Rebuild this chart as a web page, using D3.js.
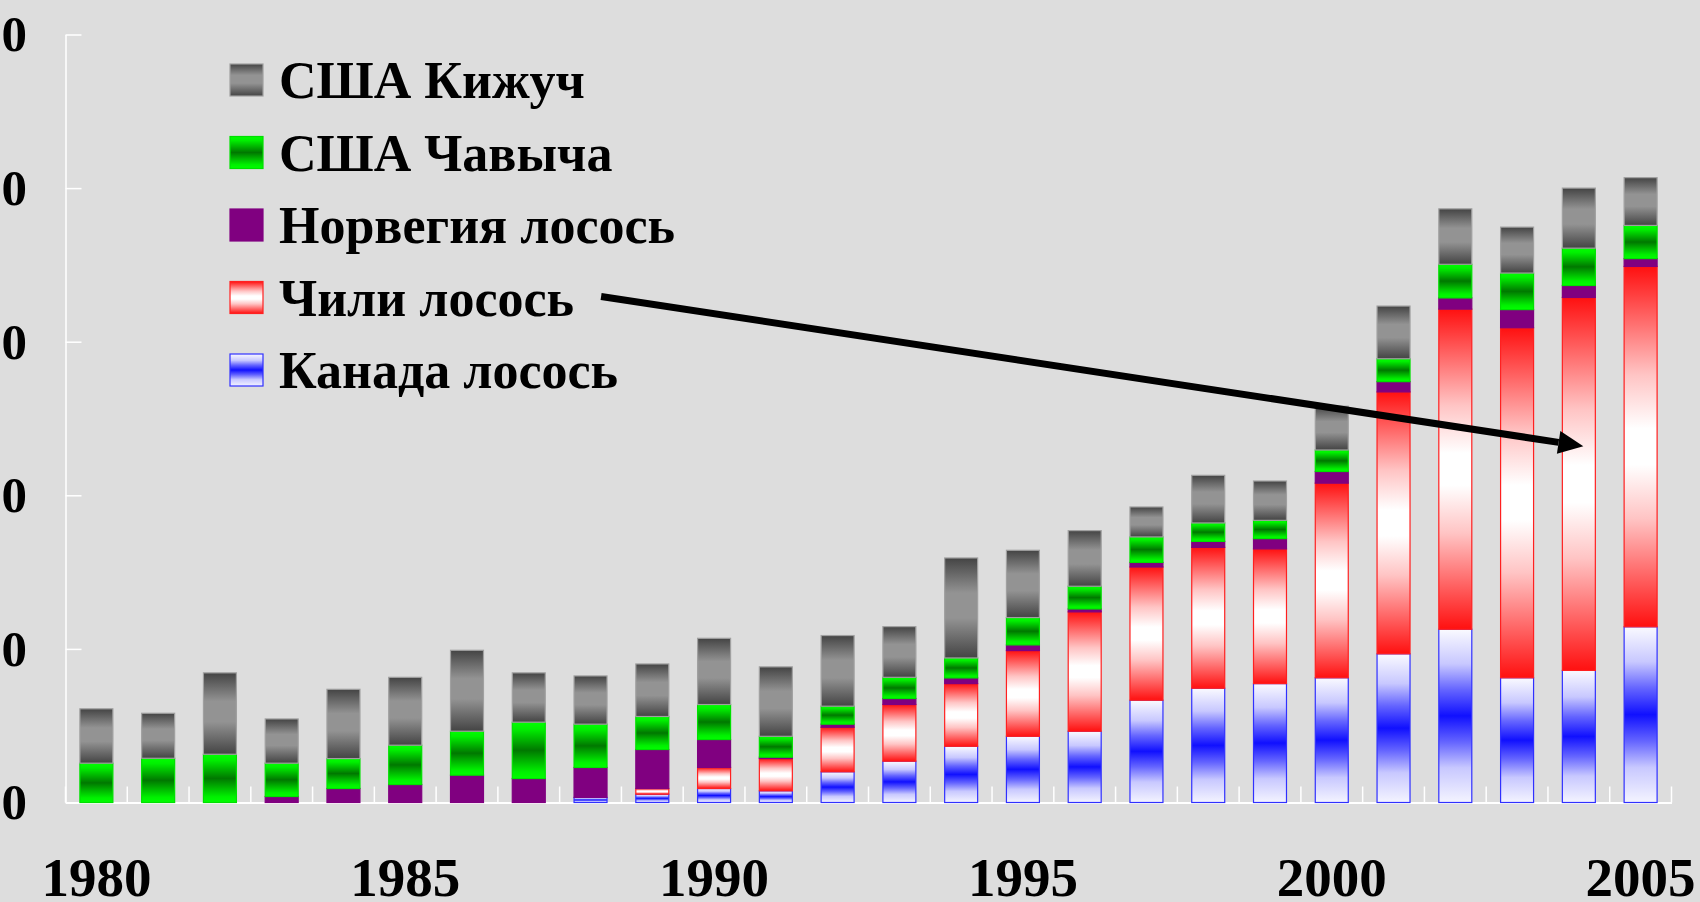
<!DOCTYPE html>
<html>
<head>
<meta charset="utf-8">
<script src="https://cdn.jsdelivr.net/npm/d3@7"></script>
<style>
  html, body { margin: 0; padding: 0; background: #dddddd; }
  svg { display: block; }
  text { font-family: "Liberation Serif", "Times New Roman", serif; font-weight: bold; fill: #000; }
</style>
</head>
<body>
<div id="container"></div>
<script>
/* CONSTANTS AND GLOBALS */
const width = 1700,
  height = 902,
  margin = { top: 34.5, bottom: 99, left: 65.5, right: 28.5 };

/* DATA */
const years = ["1980","1981","1982","1983","1984","1985","1986","1987","1988","1989",
  "1990","1991","1992","1993","1994","1995","1996","1997","1998","1999",
  "2000","2001","2002","2003","2004","2005"];

const canada = [0,0,0,0,0,0,0,0,3.3,5.4,9.1,7.6,20.0,26.9,36.6,43.1,46.4,66.6,74.4,77.4,81.2,96.8,112.8,81.2,86.0,114.4];
const chile = [0,0,0,0,0,0,0,0,0,3.7,13.7,21.0,29.0,36.9,40.8,55.8,77.7,86.7,91.7,87.7,126.7,170.5,208.4,227.9,242.8,234.6];
const norway = [0,0,0,3.9,9.1,11.7,17.8,15.6,19.5,25.4,18.2,0.9,2.0,3.9,3.7,3.7,1.9,3.0,3.9,6.7,7.6,6.7,7.3,11.8,7.8,5.1];
const usaChinook = [25.6,28.8,31.4,21.7,19.5,25.6,28.6,36.7,28.2,21.5,22.8,13.6,11.7,13.8,13.0,17.8,14.8,16.6,12.0,11.9,14.0,14.9,21.9,23.8,24.3,21.6];
const usaCoho = [35.4,29.3,53.0,28.8,45.1,44.2,52.7,32.1,31.4,34.2,43.1,45.2,46.0,33.0,65.1,43.8,36.2,19.5,31.0,25.6,28.5,34.3,36.1,29.9,39.1,31.1];

// bottom to top in the stack
const seriesKeys = ["canada", "chile", "norway", "usaChinook", "usaCoho"];
const seriesNames = ["Канада лосось", "Чили лосось", "Норвегия лосось", "США Чавыча", "США Кижуч"];

const xLabelYears = ["1980", "1985", "1990", "1995", "2000", "2005"];
const yTicks = [0, 100, 200, 300, 400, 500];
const yTickLabels = ["0", "0", "0", "0", "0", "0"];

// arrow points from the "Чили" legend entry to the 2004 bar
const arrowTarget = { year: "2004", value: 232 };

/* STYLES */
// [offset, colour] pairs, vertical gradient inside each segment
const gradStops = {
  canada: [[0, "#fafaff"], [0.2, "#c8c8ff"], [0.35, "#6464ff"], [0.5, "#1010ff"], [0.65, "#6464ff"], [0.8, "#c8c8ff"], [1, "#f4f4ff"]],
  chile: [[0, "#ff1010"], [0.15, "#ff6a6a"], [0.3, "#ffc4c4"], [0.45, "#ffffff"], [0.55, "#ffffff"], [0.7, "#ffc4c4"], [0.85, "#ff6a6a"], [1, "#ff1010"]],
  usaChinook: [[0, "#00ff00"], [0.12, "#00f000"], [0.5, "#007800"], [0.88, "#00f000"], [1, "#00ff00"]],
  usaCoho: [[0, "#444444"], [0.35, "#939393"], [0.6, "#939393"], [1, "#444444"]]
};
const strokeColor = {
  canada: "#3030ff",
  chile: "#ff2020",
  norway: "#800080",
  usaChinook: "#00e000",
  usaCoho: "#a0a0a0"
};
const fillFor = k => k === "norway" ? "#800080" : `url(#grad-${k})`;

/* BUILD TABLE */
const table = years.map((yr, i) => ({
  year: yr,
  canada: canada[i],
  chile: chile[i],
  norway: norway[i],
  usaChinook: usaChinook[i],
  usaCoho: usaCoho[i]
}));
const stacked = d3.stack().keys(seriesKeys)(table);

const svg = d3.select("#container")
  .append("svg")
  .attr("width", width)
  .attr("height", height);

svg.append("rect")
  .attr("width", width)
  .attr("height", height)
  .attr("fill", "#dddddd");

// GRADIENTS
const defs = svg.append("defs");
Object.entries(gradStops).forEach(([k, stops]) => {
  const g = defs.append("linearGradient")
    .attr("id", `grad-${k}`)
    .attr("x1", 0).attr("y1", 0)
    .attr("x2", 0).attr("y2", 1);
  stops.forEach(([o, c]) => {
    g.append("stop")
      .attr("offset", o)
      .attr("stop-color", c);
  });
});

// SCALES
const x = d3.scaleBand()
  .domain(years)
  .range([margin.left, width - margin.right])
  .paddingInner(0.466)
  .paddingOuter(0.233);

const y = d3.scaleLinear()
  .domain([0, 500])
  .range([height - margin.bottom - 0.5, margin.top]);

const baseY = y(0);

// Y AXIS
const yAxis = svg.append("g")
  .attr("transform", `translate(${margin.left},0)`)
  .call(d3.axisLeft(y)
    .tickValues(yTicks)
    .tickFormat((d, i) => yTickLabels[i])
    .tickSizeInner(-16)
    .tickSizeOuter(0)
    .tickPadding(38.5));
yAxis.selectAll("path, line").attr("stroke", "#ffffff").attr("stroke-width", 1.5);
yAxis.selectAll("text")
  .attr("font-size", 51)
  .attr("font-family", "'Liberation Serif', 'Times New Roman', serif")
  .attr("font-weight", "bold")
  .attr("fill", "#000");

// X AXIS
const xAxis = svg.append("g")
  .attr("transform", `translate(0,${baseY})`)
  .call(d3.axisBottom(x)
    .tickValues(xLabelYears)
    .tickSize(0)
    .tickSizeOuter(0));
xAxis.selectAll("path").attr("stroke", "#ffffff").attr("stroke-width", 2);
xAxis.selectAll("text")
  .attr("y", 93)
  .attr("dy", 0)
  .attr("font-size", 55)
  .attr("font-family", "'Liberation Serif', 'Times New Roman', serif")
  .attr("font-weight", "bold")
  .attr("fill", "#000");

// category boundary ticks (pointing up)
const boundaries = d3.range(years.length + 1).map(i => x.range()[0] + i * x.step());
svg.append("g")
  .selectAll("line")
  .data(boundaries)
  .join("line")
  .attr("x1", d => d).attr("x2", d => d)
  .attr("y1", baseY).attr("y2", baseY - 16)
  .attr("stroke", "#ffffff")
  .attr("stroke-width", 1.5);

// BARS
svg.append("g")
  .selectAll("g")
  .data(stacked)
  .join("g")
  .each(function (s) {
    d3.select(this)
      .selectAll("rect")
      .data(s.filter(d => d[1] - d[0] > 0))
      .join("rect")
      .attr("x", d => x(d.data.year))
      .attr("y", d => y(d[1]))
      .attr("width", x.bandwidth())
      .attr("height", d => y(d[0]) - y(d[1]))
      .attr("fill", fillFor(s.key))
      .attr("stroke", strokeColor[s.key])
      .attr("stroke-width", 1.2);
  });

// LEGEND
const legendKeys = seriesKeys.slice().reverse();
const legendNames = seriesNames.slice().reverse();
const legend = svg.append("g");
const rows = legend.selectAll("g")
  .data(legendKeys)
  .join("g")
  .attr("transform", (d, i) => `translate(230,${64 + i * 72.5})`);

rows.append("rect")
  .attr("width", 33)
  .attr("height", 32)
  .attr("fill", d => fillFor(d))
  .attr("stroke", d => strokeColor[d])
  .attr("stroke-width", 1.2);

rows.append("text")
  .attr("x", 49)
  .attr("y", 34)
  .attr("font-size", 52)
  .text((d, i) => legendNames[i]);

// ARROW
const chileText = rows.filter(d => d === "chile").select("text").node();
const chileRow = legendKeys.indexOf("chile");
const startX = 230 + 49 + chileText.getComputedTextLength() + 27;
const startY = 64 + chileRow * 72.5 + 34 - 19;
const tipX = x(arrowTarget.year) + x.bandwidth() / 2 + 4.5;
const tipY = y(arrowTarget.value);

const ang = Math.atan2(tipY - startY, tipX - startX);
const headLen = 25, headHalf = 11.5;
const baseX = tipX - headLen * Math.cos(ang),
  baseYh = tipY - headLen * Math.sin(ang);

svg.append("line")
  .attr("x1", startX).attr("y1", startY)
  .attr("x2", baseX).attr("y2", baseYh)
  .attr("stroke", "#000")
  .attr("stroke-width", 7);

svg.append("path")
  .attr("d", d3.line()([
    [tipX, tipY],
    [baseX - headHalf * Math.sin(ang), baseYh + headHalf * Math.cos(ang)],
    [baseX + headHalf * Math.sin(ang), baseYh - headHalf * Math.cos(ang)]
  ]) + "Z")
  .attr("fill", "#000");
</script>
</body>
</html>
